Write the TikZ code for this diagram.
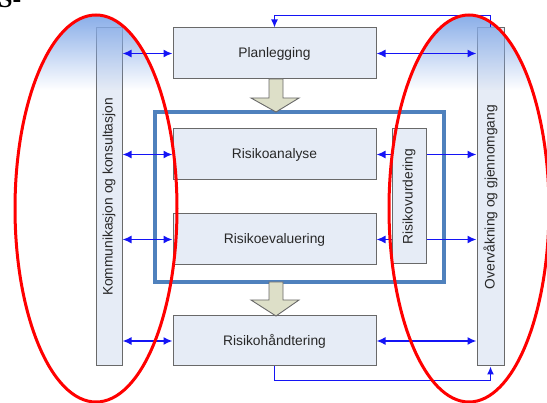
\documentclass[tikz,border=0pt]{standalone}
\usepackage{fontspec}
\setmainfont{Liberation Sans}
\newfontfamily\fragserif{Liberation Serif}
\usetikzlibrary{arrows.meta,fadings}
\definecolor{boxfill}{RGB}{230,236,246}
\definecolor{boxline}{RGB}{105,105,105}
\definecolor{framecol}{RGB}{79,129,189}
\definecolor{conncol}{RGB}{20,20,245}
\definecolor{bigarrow}{RGB}{221,223,200}
\definecolor{gradblue}{RGB}{135,172,232}
\definecolor{txtcol}{RGB}{40,40,40}
\tikzfading[name=fadedown, top color=transparent!0, bottom color=transparent!100]
\begin{document}
\begin{tikzpicture}[x=1pt,y=-1pt,
  box/.style={draw=boxline, fill=boxfill, line width=1pt, inner sep=0pt,
    text=txtcol, font=\fontsize{13.8}{16}\selectfont},
  vtext/.style={rotate=90, text=txtcol, font=\fontsize{13.8}{16}\selectfont},
  conn/.style={draw=conncol, line width=1.6pt, {Latex[length=9pt,width=8pt]}-{Latex[length=9pt,width=8pt]}},
  flow/.style={draw=conncol, line width=1.2pt, -{Latex[length=8pt,width=7pt]}},
  ring/.style={draw=red, line width=3pt},
  fatarrow/.style={draw=boxline, fill=bigarrow, line width=0.9pt}
]
\useasboundingbox (0,0) rectangle (547,403);

% fragment of slide text
\node[anchor=base west, inner sep=0pt, font=\fragserif\bfseries\fontsize{26}{26}\selectfont] (frag) at (-2,8) {S-};

% side bars
\node[box, minimum width=26pt, minimum height=338pt] (lbar) at (109,197) {};
\node[vtext] (ltxt) at (lbar.center) {Kommunikasjon og konsultasjon};
\node[box, minimum width=27pt, minimum height=338pt] (rbar) at (490.5,197) {};
\node[vtext] (rtxt) at (rbar.center) {Overvåkning og gjennomgang};

% blue gradient at top of ellipses
\begin{scope}
  \clip (96,208.5) ellipse [x radius=81, y radius=193.5];
  \fill[gradblue, path fading=fadedown] (10,14) rectangle (182,90);
\end{scope}
\begin{scope}
  \clip (469,208.5) ellipse [x radius=80, y radius=193.5];
  \fill[gradblue, path fading=fadedown] (385,14) rectangle (552,90);
\end{scope}

% process boxes
\node[box, minimum width=203pt, minimum height=51pt] (plan) at (274.5,53.5) {Planlegging};
\node[box, minimum width=203pt, minimum height=51pt] (ana) at (274.5,154.5) {Risikoanalyse};
\node[box, minimum width=203pt, minimum height=51pt] (eval) at (274.5,239.5) {Risikoevaluering};
\node[box, minimum width=203pt, minimum height=50pt] (hand) at (274.5,341) {Risikohåndtering};

% assessment frame
\node[draw=framecol, line width=3.4pt, minimum width=289pt, minimum height=170pt, inner sep=0pt] (frame) at (299.5,197) {};

% big process arrows
\draw[fatarrow] (269,79) -- (283,79) -- (283,98) -- (299,98) -- (276,112) -- (251,98) -- (269,98) -- cycle;
\draw[fatarrow] (269,282) -- (283,282) -- (283,300) -- (299,300) -- (276,316) -- (251,300) -- (269,300) -- cycle;

% connectors left
\draw[conn] (lbar.east |- plan) -- (plan.west);
\draw[conn] (lbar.east |- ana) -- (ana.west);
\draw[conn] (lbar.east |- eval) -- (eval.west);
\draw[conn] (lbar.east |- hand) -- (hand.west);

% connectors right
\draw[conn] (plan.east) -- (rbar.west |- plan);
\draw[conn] (ana.east) -- (rbar.west |- ana);
\draw[conn] (eval.east) -- (rbar.west |- eval);
\draw[conn] (hand.east) -- (rbar.west |- hand);

% risk assessment box (over the connectors)
\node[box, minimum width=34pt, minimum height=135pt] (vurd) at (409,196.5) {};
\node[vtext] (vtxt) at (vurd.center) {Risikovurdering};

% feedback loops
\draw[flow] (rbar.north) -- ++(0,-12) -| (plan.north);
\draw[flow] (hand.south) -- ++(0,14) -| (rbar.south);

% red ellipses
\draw[ring] (96,208.5) ellipse [x radius=81, y radius=193.5];
\draw[ring] (469,208.5) ellipse [x radius=80, y radius=193.5];
\end{tikzpicture}
\end{document}
